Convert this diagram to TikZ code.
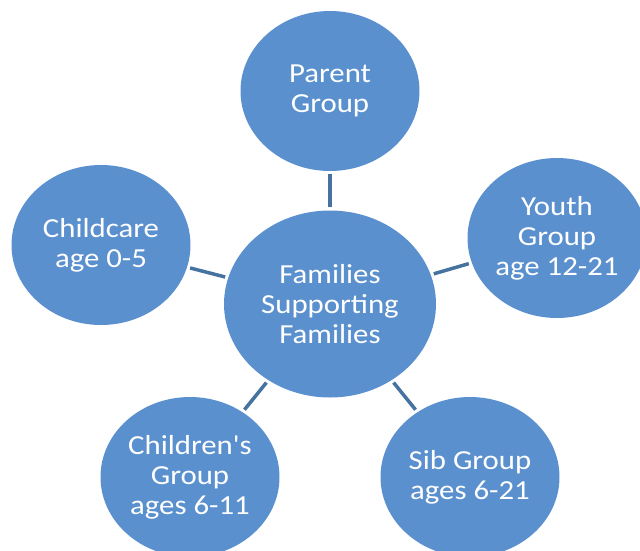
\documentclass[tikz,border=0pt]{standalone}
\usepackage{fontspec}
\setmainfont{Carlito}[FakeStretch=1.12,Ligatures=TeXOff]
\usetikzlibrary{shapes.geometric}
\definecolor{bubblefill}{HTML}{5B90CF}
\definecolor{linkline}{HTML}{45729F}
\tikzset{grp/.append style={ellipse,fill=bubblefill,text=white,align=center,inner sep=0pt,minimum width=179pt,minimum height=160pt,font=\fontsize{27.5}{30}\selectfont}}
\tikzset{hub/.append style={minimum width=212pt,minimum height=187pt}}
\tikzset{lnk/.append style={draw=linkline,line width=3.5pt,shorten >=3pt,shorten <=3pt}}

\begin{document}
\begin{tikzpicture}[x=1pt,y=1pt]
                \useasboundingbox (0,0) rectangle (640,-550);
                % bubbles
                \node[grp,hub] (fam) at (330,-304) {Families\\Supporting\\Families};
                \node[grp] (parent) at (330,-91) {Parent\\Group};
                \node[grp] (care) at (101,-245) {Childcare\\age 0-5};
                \node[grp] (youth) at (557,-238) {Youth\\Group\\age 12-21};
                \node[grp] (kids) at (190,-477) {Children's\\Group\\ages 6-11};
                \node[grp] (sib) at (470,-477) {Sib Group\\ages 6-21};
                % links
                \path (fam) edge[lnk] (parent) edge[lnk] (care) edge[lnk] (youth);
                \path (fam) edge[lnk] (kids) edge[lnk] (sib);
            \end{tikzpicture}
\end{document}
